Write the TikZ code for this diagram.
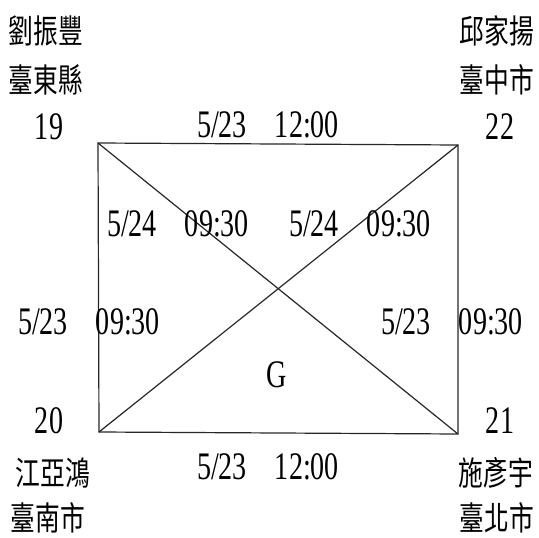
\documentclass[tikz,border=0pt]{standalone}
\usepackage{fontspec}
\setmainfont{Liberation Serif}[FakeStretch=0.72]
\newfontfamily\cjk{Noto Sans CJK TC}[FakeStretch=0.75]
\usetikzlibrary{positioning}

\newcommand{\dtslot}[2]{#1\hspace{28pt}#2}

\begin{document}
\begin{tikzpicture}[x=1pt, y=-1pt,
    num/.style={inner sep=0pt, font=\fontsize{39}{40}\selectfont},
    who/.style={inner sep=0pt, font=\cjk\fontsize{33}{34}\selectfont},
    edge/.style={draw=black!85, line width=1.2pt}]

  \useasboundingbox (0,0) rectangle (539,538);

  % corners
  \coordinate (tl) at (98,143);
  \coordinate (tr) at (458,145);
  \coordinate (bl) at (99,432);
  \coordinate (br) at (458,434);

  \draw[edge] (tl) -- (tr) -- (br) -- (bl) -- cycle;
  \draw[edge] (tl) -- (br);
  \draw[edge] (tr) -- (bl);

  % teams
  \node[who] (n19a) at (46,31) {劉振豐};
  \node[who] (n19b) at (46,80) {臺東縣};
  \node[num] (n19) at (49,127) {19};

  \node[who] (n22a) at (497,31) {邱家揚};
  \node[who] (n22b) at (497,80) {臺中市};
  \node[num] (n22) at (500,127) {22};

  \node[num] (n20) at (49,421) {20};
  \node[who] (n20a) at (53,473) {江亞鴻};
  \node[who] (n20b) at (48,518) {臺南市};

  \node[num] (n21) at (500,421) {21};
  \node[who] (n21a) at (496,473) {施彥宇};
  \node[who] (n21b) at (497,518) {臺北市};

  % match times
  \node[num] (mtop) at (268,125) {\dtslot{5/23}{12:00}};
  \node[num] (mbot) at (268,467) {\dtslot{5/23}{12:00}};
  \node[num] (mdl) at (178,224) {\dtslot{5/24}{09:30}};
  \node[num] (mdr) at (360,224) {\dtslot{5/24}{09:30}};
  \node[num] (mleft) at (89,322) {\dtslot{5/23}{09:30}};
  \node[num] (mright) at (452,322) {\dtslot{5/23}{09:30}};

  \node[num] (grp) at (277,375) {G};
\end{tikzpicture}
\end{document}
